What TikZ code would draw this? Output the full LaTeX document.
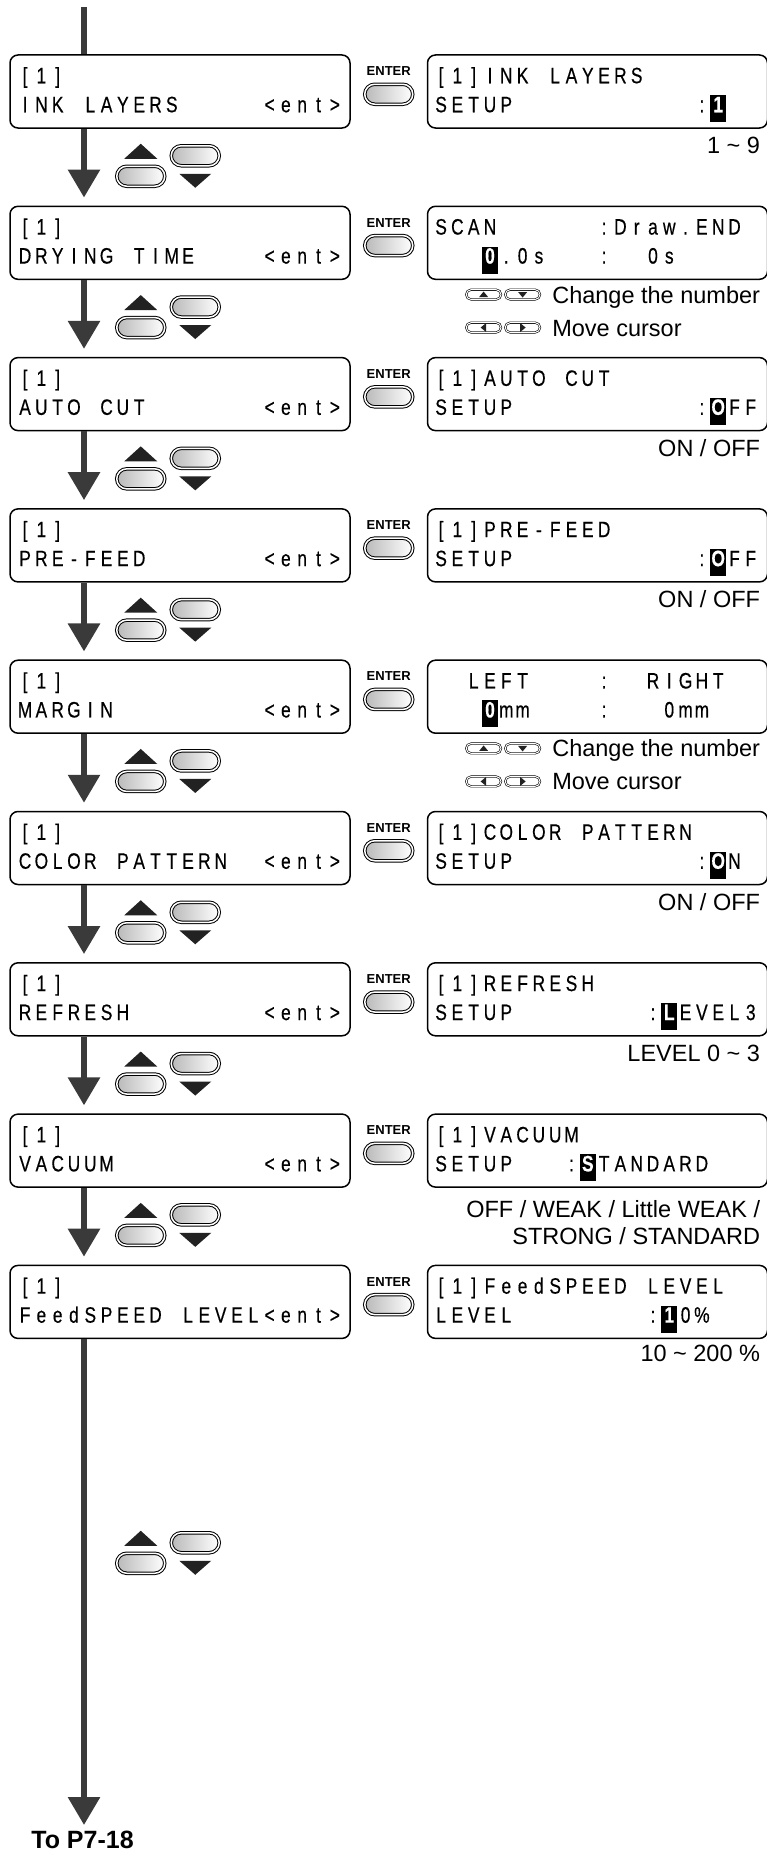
\documentclass[tikz,border=0pt]{standalone}
\usepackage{fontspec}
\setmainfont{Liberation Sans}
\newfontfamily\lcdfont[FakeStretch=0.78, FakeBold=0.4]{Liberation Sans}
\usetikzlibrary{arrows.meta,positioning,shapes.misc,calc}
\definecolor{shaft}{HTML}{3A3A3A}
\definecolor{keytri}{HTML}{222222}
\newlength\lcdcell
\setlength\lcdcell{16.3pt}
% one character per display cell
\newcommand\lcd[1]{\expandafter\lcdloop#1\relax}
\newcommand\lcdloop[1]{\ifx\relax#1\else\makebox[\lcdcell][c]{#1}\expandafter\lcdloop\fi}
\newcommand\lcdhl[1]{\rlap{\rule[-10pt]{\lcdcell}{27pt}}\makebox[\lcdcell][c]{\color{white}\bfseries#1}}
\begin{document}
\begin{tikzpicture}[x=1pt, y=-1pt,
		lcdbox/.style={draw, line width=1.5pt, rounded corners=8pt, minimum width=340pt, minimum height=73pt, inner sep=0pt},
		lcdtxt/.style={inner sep=0pt, anchor=base west, font=\lcdfont\fontsize{22.3pt}{26pt}\selectfont},
		note/.style={inner sep=0pt, anchor=base east, font=\fontsize{23.5pt}{28pt}\selectfont},
		bigkey/.style={rounded rectangle, draw, line width=1pt, double, double distance=1.5pt, left color=gray!55, right color=white, minimum width=48pt, minimum height=20pt, inner sep=0pt},
		kbtn/.style={rounded rectangle, draw, line width=0.6pt, double, double distance=1pt, fill=white, minimum width=34.8pt, minimum height=9.8pt, inner sep=0pt},
		tri/.style={fill=keytri},
		enterlbl/.style={font=\bfseries\fontsize{13pt}{13pt}\selectfont, inner sep=0pt},
		flow/.style={draw=shaft, line width=6pt, -{Triangle[length=28pt, width=31pt]}},
		updown/.pic={
			\fill[tri] (-16.5,15) -- (16.5,15) -- (0,0) -- cycle;
			\node[bigkey] (-up) at (0,32.5) {};
			\node[bigkey] (-dn) at (54.5,12) {};
			\fill[tri] (38.5,30) -- (70.5,30) -- (54.5,44) -- cycle;
		},
		enterbtn/.pic={
			\node[enterlbl] (-lbl) at (0,0) {ENTER};
			\node[bigkey] (-key) at (0,23) {};
		}]
	\useasboundingbox (0,0) rectangle (767,1852);
	% menu screens (left) and setting screens (right)
	\foreach \i/\nm/\rtop/\pre/\hc/\post [count=\k from 0] in {
			1/INK~LAYERS~~~~~<ent>/[1]INK~LAYERS/SETUP~~~~~~~~~~~:/1/{},
			2/DRYING~TIME~~~~<ent>/SCAN~~~~~~:Draw.END/~~~/0/.0s~~~:~~0s,
			3/AUTO~CUT~~~~~~~<ent>/[1]AUTO~CUT/SETUP~~~~~~~~~~~:/O/FF,
			4/PRE-FEED~~~~~~~<ent>/[1]PRE-FEED/SETUP~~~~~~~~~~~:/O/FF,
			5/MARGIN~~~~~~~~~<ent>/~~LEFT~~~~:~~RIGHT/~~~/0/mm~~~~:~~~0mm,
			6/COLOR~PATTERN~~<ent>/[1]COLOR~PATTERN/SETUP~~~~~~~~~~~:/O/N,
			7/REFRESH~~~~~~~~<ent>/[1]REFRESH/SETUP~~~~~~~~:/L/EVEL3,
			8/VACUUM~~~~~~~~~<ent>/[1]VACUUM/SETUP~~~:/S/TANDARD,
			9/FeedSPEED~LEVEL<ent>/[1]FeedSPEED~LEVEL/LEVEL~~~~~~~~:/1/0\%} {
		\node[lcdbox] (l\i) at (180,{91.5+151.3*\k}) {};
		\node[lcdbox, right=76pt of l\i] (r\i) {};
		\node[lcdtxt] (lt\i) at ($(l\i.north west)+(7.5,29)$) {\lcd{[1]}};
		\node[lcdtxt] (lb\i) at ($(l\i.north west)+(7.5,58)$) {\lcd{\nm}};
		\node[lcdtxt] (rt\i) at ($(r\i.north west)+(6,29)$) {\lcd{\rtop}};
		\node[lcdtxt] (rb\i) at ($(r\i.north west)+(6,58)$) {\lcd{\pre}\lcdhl{\hc}\lcd{\post}};
		\pic (e\i) at ($(l\i.north east)!0.5!(r\i.north west)+(0,17)$) {enterbtn};
	}
	% main flow
	\coordinate (top) at (84,7);
	\coordinate (end) at (84,1825);
	\draw[draw=shaft, line width=6pt] (top) -- (l1.north -| top);
	\foreach \a/\b in {1/2, 2/3, 3/4, 4/5, 5/6, 6/7, 7/8, 8/9} {
		\draw[flow, shorten >=8pt] (l\a.south -| top) -- (l\b.north -| top);
		\pic (ud\a) at ($(l\a.south west)+(131.5,15)$) {updown};
	}
	\draw[flow] (l9.south -| top) -- (end);
	\pic (ud9) at ($(l9.south west)+(131.5,191.6)$) {updown};
	\node[font=\bfseries\fontsize{25pt}{25pt}\selectfont, inner sep=0pt, anchor=base] (to) at ($(end)+(-1.5,23)$) {To P7-18};
	% value ranges and key hints
	\node[note] (n1) at ($(r1.south east)+(-8,25)$) {1 \textasciitilde{} 9};
	\foreach \i in {2,5} {
		\node[note] (n\i a) at ($(r\i.south east)+(-8,23)$) {Change the number};
		\node[note, anchor=base west] (n\i b) at ($(n\i a.base west)+(0,33)$) {Move cursor};
		\node[kbtn] (k\i u) at ($(n\i a.base west)+(-68.5,-8.5)$) {};
		\node[kbtn] (k\i d) at ($(n\i a.base west)+(-29.5,-8.5)$) {};
		\node[kbtn] (k\i l) at ($(n\i b.base west)+(-68.5,-8.5)$) {};
		\node[kbtn] (k\i r) at ($(n\i b.base west)+(-29.5,-8.5)$) {};
		\foreach \d/\r in {u/0, d/180, l/90, r/-90}
			\fill[tri, shift={(k\i\d.center)}, rotate=\r] (-4.5,2.5) -- (4.5,2.5) -- (0,-3) -- cycle;
	}
	\foreach \i in {3,4,6}
		\node[note] (n\i) at ($(r\i.south east)+(-8,25)$) {ON / OFF};
	\node[note] (n7) at ($(r7.south east)+(-8,25)$) {LEVEL 0 \textasciitilde{} 3};
	\node[note] (n8a) at ($(r8.south east)+(-8,30)$) {OFF / WEAK / Little WEAK /};
	\node[note] (n8b) at ($(n8a.base east)+(0,27)$) {STRONG / STANDARD};
	\node[note] (n9) at ($(r9.south east)+(-8,22)$) {10 \textasciitilde{} 200 \%};
\end{tikzpicture}
\end{document}
